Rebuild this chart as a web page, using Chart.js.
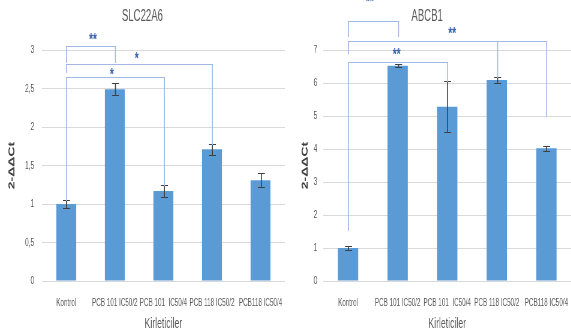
<!DOCTYPE html>
<html>
<head>
<meta charset="utf-8">
<script src="https://cdn.jsdelivr.net/npm/chart.js@4"></script>
<style>
    html, body { margin: 0; padding: 0; background: #fff; overflow: hidden; width: 571px; height: 336px; }
    canvas { position: absolute; top: 0; }
    #chartA { left: 0; }
    #chartB { left: 283px; }
</style>
</head>
<body>
<!-- the source figure is squeezed horizontally: render wide, display at 60% width -->
<canvas id="chartA" width="487" height="336" style="width:292px;height:336px"></canvas>
<canvas id="chartB" width="503" height="336" style="width:302px;height:336px"></canvas>
<script>
const SQUEEZE = 0.6;

const categories = ['Kontrol', 'PCB 101 IC50/2', 'PCB 101  IC50/4', 'PCB 118 IC50/2', 'PCB118 IC50/4'];

// SLC22A6
const slcValues = [1.00, 2.49, 1.17, 1.71, 1.31];
const slcErrors = [0.05, 0.08, 0.08, 0.07, 0.095];
const slcTicks = [0, 0.5, 1, 1.5, 2, 2.5, 3];

// ABCB1
const abcValues = [1.00, 6.52, 5.28, 6.09, 4.02];
const abcErrors = [0.07, 0.05, 0.77, 0.10, 0.08];
const abcTicks = [0, 1, 2, 3, 4, 5, 6, 7];

// significance brackets (category index + y-axis units)
const slcBrackets = [
    { from: 0, to: 1, y: 3.05, leftEnd: 2.84, rightEnd: 2.84, mids: [], label: '**', labelX: 0.55, labelY: 3.18 },
    { from: 0, to: 3, y: 2.82, leftEnd: 2.72, rightEnd: 1.78, mids: [], label: '*', labelX: 1.45, labelY: 2.93 },
    { from: 0, to: 2, y: 2.65, leftEnd: 1.05, rightEnd: 1.25, mids: [], label: '*', labelX: 0.94, labelY: 2.72 }
];
const abcBrackets = [
    { from: 0, to: 1, y: 7.88, leftEnd: 7.42, rightEnd: 7.42, mids: [], label: '**', labelX: 0.44, labelY: 8.55 },
    { from: 0, to: 4, y: 7.27, leftEnd: 6.9, rightEnd: 5.0, mids: [{ at: 3, end: 6.18 }], label: '**', labelX: 2.1, labelY: 7.6 },
    { from: 0, to: 2, y: 6.64, leftEnd: 1.55, rightEnd: 6.06, mids: [], label: '**', labelX: 0.98, labelY: 6.97 }
];

const FONT = "'Liberation Sans', Arial, sans-serif";
const GRAY = '#595959';
const BAR = '#5B9BD5';
const STAR_SIZE = 17;

// 1 screen pixel wide vertical line / 1 pixel tall horizontal line
function vLine(ctx, x, y1, y2) {
    const xs = Math.round(x * SQUEEZE) / SQUEEZE;
    const top = Math.round(Math.min(y1, y2));
    ctx.fillRect(xs, top, 1 / SQUEEZE, Math.round(Math.max(y1, y2)) - top + 1);
}
function hLine(ctx, x1, x2, y) {
    const a = Math.round(x1 * SQUEEZE) / SQUEEZE;
    const b = Math.round(x2 * SQUEEZE) / SQUEEZE;
    ctx.fillRect(a, Math.round(y), b - a + 1 / SQUEEZE, 1);
}

// error bars + brackets, all placed through the chart scales
function makeAnnotate(errors, brackets) {
    return {
        id: 'annotate',
        afterDatasetsDraw(chart) {
            const { ctx, scales: { x, y } } = chart;
            const values = chart.data.datasets[0].data;
            const cap = 3 / SQUEEZE;
            ctx.save();

            ctx.fillStyle = '#404040';
            values.forEach((v, i) => {
                const px = x.getPixelForValue(i);
                const top = y.getPixelForValue(v + errors[i]);
                const bot = y.getPixelForValue(v - errors[i]);
                vLine(ctx, px, top, bot);
                hLine(ctx, px - cap, px + cap, top);
                hLine(ctx, px - cap, px + cap, bot);
            });

            ctx.fillStyle = '#A2BAE3';
            brackets.forEach(b => {
                const x1 = x.getPixelForValue(b.from);
                const x2 = x.getPixelForValue(b.to);
                const yy = y.getPixelForValue(b.y);
                hLine(ctx, x1, x2, yy);
                vLine(ctx, x1, yy, y.getPixelForValue(b.leftEnd));
                vLine(ctx, x2, yy, y.getPixelForValue(b.rightEnd));
                b.mids.forEach(m => vLine(ctx, x.getPixelForValue(m.at), yy, y.getPixelForValue(m.end)));
            });

            ctx.fillStyle = '#3A62AE';
            ctx.font = 'bold ' + STAR_SIZE + 'px ' + FONT;
            ctx.textAlign = 'center';
            ctx.textBaseline = 'middle';
            brackets.forEach(b => {
                ctx.fillText(b.label, x.getPixelForValue(b.labelX), y.getPixelForValue(b.labelY) + STAR_SIZE * 0.23);
            });
            ctx.restore();
        }
    };
}

function buildChart(id, title, values, errors, ticks, brackets, axisWidth, yTickPad, yTitlePad, rightPad) {
    const ctx = document.getElementById(id).getContext('2d');
    return new Chart(ctx, {
        type: 'bar',
        data: {
            labels: categories,
            datasets: [{
                data: values,
                backgroundColor: BAR,
                borderWidth: 0,
                categoryPercentage: 1,
                barPercentage: 0.41
            }]
        },
        options: {
            responsive: false,
            animation: false,
            devicePixelRatio: 1,
            layout: { padding: { left: 0, right: rightPad, top: 0, bottom: 0 } },
            plugins: {
                legend: { display: false },
                tooltip: { enabled: false },
                title: {
                    display: true,
                    text: title,
                    color: GRAY,
                    font: { family: FONT, size: 16, weight: 'normal' },
                    padding: { top: 7, bottom: 23.8 }
                }
            },
            scales: {
                x: {
                    grid: { display: false, drawTicks: false },
                    border: { display: false },
                    ticks: {
                        color: GRAY,
                        font: { family: FONT, size: 10.5 },
                        padding: 16,
                        autoSkip: false,
                        maxRotation: 0,
                        minRotation: 0
                    },
                    title: {
                        display: true,
                        text: 'Kirleticiler',
                        color: GRAY,
                        font: { family: FONT, size: 14.5 },
                        padding: { top: 0, bottom: 3 }
                    },
                    afterFit(scale) {
                        scale.height = 55;
                        scale.paddingLeft = 0;
                        scale.paddingRight = 0;
                    }
                },
                y: {
                    min: ticks[0],
                    max: ticks[ticks.length - 1],
                    afterBuildTicks(scale) { scale.ticks = ticks.map(v => ({ value: v })); },
                    grid: { color: '#D9D9D9', drawTicks: false },
                    border: { display: false },
                    ticks: {
                        color: GRAY,
                        font: { family: FONT, size: 11 },
                        padding: yTickPad,
                        callback: v => String(v).replace('.', ',')
                    },
                    title: {
                        display: true,
                        text: '2-ΔΔCt',
                        color: '#404040',
                        font: { family: FONT, size: 14, weight: 'bold' },
                        padding: { top: yTitlePad, bottom: 0 }
                    },
                    afterFit(scale) { scale.width = axisWidth; }
                }
            }
        },
        plugins: [makeAnnotate(errors, brackets)]
    });
}

buildChart('chartA', 'SLC22A6', slcValues, slcErrors, slcTicks, slcBrackets, 70, 13, 11.6, 12);
buildChart('chartB', 'ABCB1', abcValues, abcErrors, abcTicks, abcBrackets, 67, 10, 28.3, 23);
</script>
</body>
</html>
